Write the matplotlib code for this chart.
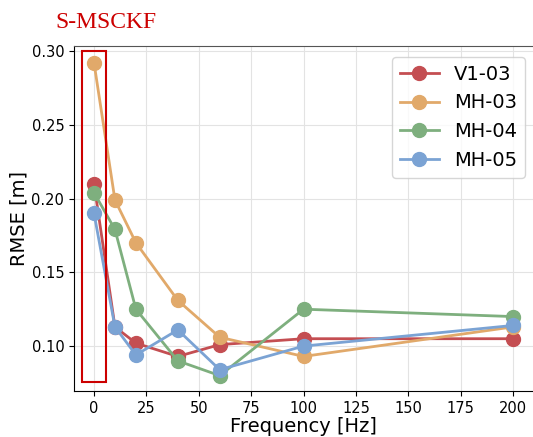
import matplotlib
matplotlib.use('Agg')
import matplotlib.pyplot as plt
from matplotlib.patches import Rectangle

# Data
freqs = [0, 10, 20, 40, 60, 100, 200]
v1_03 = [0.210, 0.113, 0.102, 0.093, 0.101, 0.105, 0.105]
mh_03 = [0.292, 0.199, 0.170, 0.131, 0.106, 0.093, 0.113]
mh_04 = [0.204, 0.179, 0.125, 0.090, 0.080, 0.125, 0.120]
mh_05 = [0.190, 0.113, 0.094, 0.111, 0.084, 0.100, 0.114]
labels = ['V1-03', 'MH-03', 'MH-04', 'MH-05']
colors = ['#C44E52', '#E1A96A', '#7EAF7E', '#7BA3D4']

fig = plt.figure(figsize=(5.33, 4.37), dpi=100)
ax = fig.add_axes([0.139, 0.105, 0.861, 0.79])

for vals, lab, c in zip([v1_03, mh_03, mh_04, mh_05], labels, colors):
    ax.plot(freqs, vals, color=c, lw=2, marker='o', markersize=10, label=lab)

# highlight the 0 Hz column
ax.add_patch(Rectangle((-5.5, 0.076), 11, 0.224, fill=False,
                       edgecolor='#CC0000', lw=1.5, zorder=5))

ax.set_xlim(-9.5, 209.5)
ax.set_ylim(0.0695, 0.3034)
ax.set_xticks([0, 25, 50, 75, 100, 125, 150, 175, 200])
ax.set_yticks([0.10, 0.15, 0.20, 0.25, 0.30])
ax.grid(True, color='#e3e3e3', lw=0.8)
ax.set_axisbelow(True)
ax.spines['right'].set_visible(False)
ax.spines['top'].set_color('#555555')
ax.tick_params(labelsize=10.5)
ax.set_xlabel('Frequency [Hz]', fontsize=14, labelpad=1)
ax.set_ylabel('RMSE [m]', fontsize=14, labelpad=2)
ax.legend(loc='upper right', fontsize=14, borderaxespad=0, bbox_to_anchor=(0.983, 0.968))

fig.text(0.199, 0.948, 'S-MSCKF', color='#CC0000', fontsize=17,
         family='Liberation Serif', ha='center', va='center')

plt.savefig('out.png', dpi=100)
